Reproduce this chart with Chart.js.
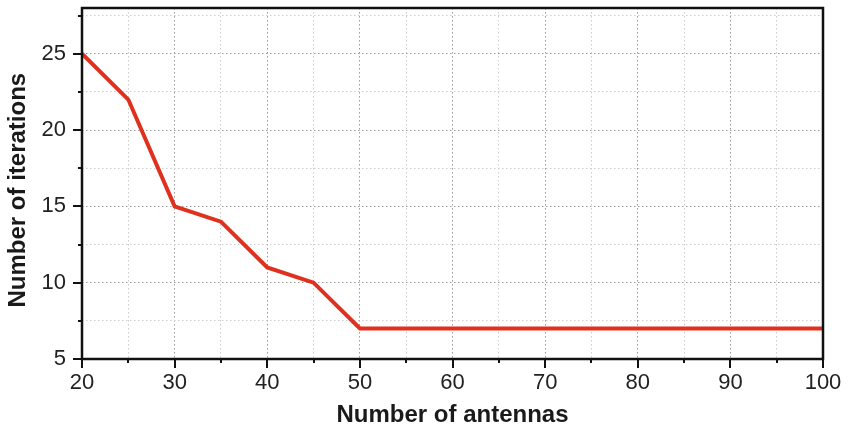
<!DOCTYPE html>
<html>
<head>
<meta charset="utf-8">
<script src="https://cdn.jsdelivr.net/npm/chart.js@4/dist/chart.umd.min.js"></script>
<style>
html,body{margin:0;padding:0;background:#fff;}
#wrap{width:848px;height:430px;position:relative;}
</style>
</head>
<body>
<div id="wrap"><canvas id="c" width="848" height="430"></canvas></div>
<script>
const antennas = [20,25,30,35,40,45,50,55,60,65,70,75,80,85,90,95,100];
const iterations = [25,22,15,14,11,10,7,7,7,7,7,7,7,7,7,7,7];
const xTickLabels = ['20','30','40','50','60','70','80','90','100'];
const yTickLabels = ['5','10','15','20','25'];

const PLOT = {left:82, right:823, top:8, bottom:359};
const FONT = 'Liberation Sans, Arial, Helvetica, sans-serif';

const framePlugin = {
  id:'frame',
  afterDraw(chart){
    const {ctx, chartArea:a, scales:{x,y}} = chart;
    ctx.save();
    ctx.strokeStyle = '#111';
    ctx.lineWidth = 2;
    for (let v = 20; v <= 100; v += 5) {
      const px = Math.round(x.getPixelForValue(v));
      const len = (v % 10 === 0) ? 9 : 4;
      ctx.beginPath(); ctx.moveTo(px, a.bottom); ctx.lineTo(px, a.bottom + len); ctx.stroke();
    }
    for (let v = 5; v <= 27.5; v += 2.5) {
      const py = Math.round(y.getPixelForValue(v));
      const len = (v % 5 === 0) ? 9 : 4;
      ctx.beginPath(); ctx.moveTo(a.left, py); ctx.lineTo(a.left - len, py); ctx.stroke();
    }
    ctx.lineWidth = 2.5;
    ctx.strokeRect(a.left, a.top, a.right - a.left, a.bottom - a.top);
    ctx.restore();
  }
};

new Chart(document.getElementById('c'), {
  type:'line',
  data:{
    datasets:[{
      data: antennas.map((a,i)=>({x:a, y:iterations[i]})),
      borderColor:'#e0311f',
      borderWidth:4,
      pointRadius:0,
      tension:0,
      fill:false
    }]
  },
  options:{
    responsive:false,
    animation:false,
    layout:{padding:{left:0, right:848-PLOT.right, top:PLOT.top, bottom:0}},
    plugins:{legend:{display:false}, tooltip:{enabled:false}},
    scales:{
      x:{
        type:'linear', min:20, max:100,
        afterFit(s){ s.height = 430 - PLOT.bottom; s.paddingLeft = 0; s.paddingRight = 0; },
        ticks:{
          stepSize:5, autoSkip:false, maxRotation:0, padding:11,
          color:'#222', font:{family:FONT, size:22},
          callback:(v)=> xTickLabels.includes(String(v)) ? String(v) : ''
        },
        grid:{
          drawTicks:false,
          color:(c)=> (c.tick && c.tick.value % 10 === 0) ? '#9a9a9a' : '#cdcdcd',
          lineWidth:1
        },
        border:{display:false, dash:[1.5,2.5]},
        title:{display:true, text:'Number of antennas', color:'#1a1a1a',
          font:{family:FONT, size:24, weight:'bold'}, padding:{top:0,bottom:0}}
      },
      y:{
        type:'linear', min:5, max:28,
        afterFit(s){ s.width = PLOT.left; s.paddingTop = 0; s.paddingBottom = 0; },
        ticks:{
          stepSize:2.5, autoSkip:false, padding:16, includeBounds:false,
          color:'#222', font:{family:FONT, size:22},
          callback:(v)=> yTickLabels.includes(String(v)) ? String(v) : ''
        },
        grid:{
          drawTicks:false,
          color:(c)=> (c.tick && c.tick.value % 5 === 0) ? '#9a9a9a' : '#cdcdcd',
          lineWidth:1
        },
        border:{display:false, dash:[1.5,2.5]},
        title:{display:true, text:'Number of iterations  ', color:'#1a1a1a',
          font:{family:FONT, size:24, weight:'bold'}, padding:{top:4,bottom:0}}
      }
    }
  },
  plugins:[framePlugin]
});
</script>
</body>
</html>
